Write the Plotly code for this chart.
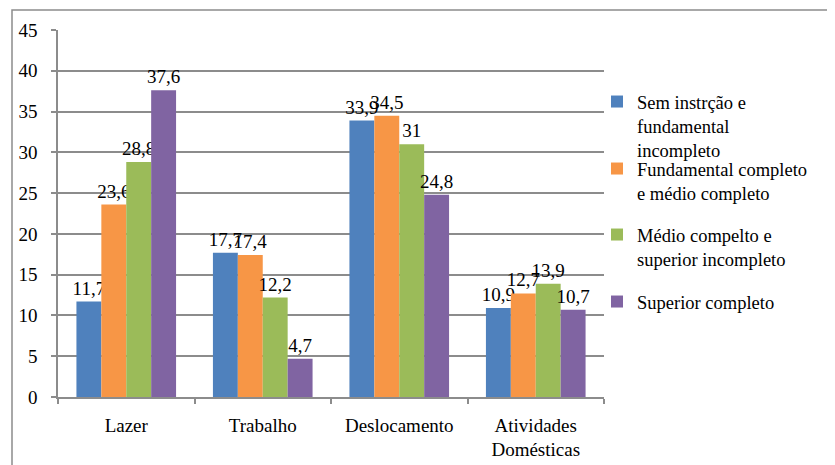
import plotly.graph_objects as go

categories = ["Lazer", "Trabalho", "Deslocamento", "Atividades<br>Domésticas"]
series_names = [
    "Sem instrção e<br>fundamental<br>incompleto",
    "Fundamental completo<br>e médio completo",
    "Médio compelto e<br>superior incompleto",
    "Superior completo",
]
s1 = [11.7, 17.7, 33.9, 10.9]
s2 = [23.6, 17.4, 34.5, 12.7]
s3 = [28.8, 12.2, 31, 13.9]
s4 = [37.6, 4.7, 24.8, 10.7]
y_ticks = [0, 5, 10, 15, 20, 25, 30, 35, 40, 45]

colors = ["#4F81BD", "#F79646", "#9BBB59", "#8064A2"]
series = [s1, s2, s3, s4]
legend_ids = ["legend", "legend2", "legend3", "legend4"]

OFF = 8  # page body margin
W, H = 835 - OFF, 465 - OFF
SX0, SX1, SY0, SY1 = 58, 604, 30, 397
L, T = SX0 - OFF, SY0 - OFF
R = W - (SX1 - OFF)
B = H - (SY1 - OFF)
pw = SX1 - SX0
ph = SY1 - SY0

def fmt(v):
    return ("%g" % v).replace(".", ",")

FONT = "Liberation Serif"
FS = 19
LFS = 18.5

fig = go.Figure()
for name, vals, c, lg in zip(series_names, series, colors, legend_ids):
    fig.add_trace(go.Bar(
        x=categories, y=vals, name=name,
        marker=dict(color=c, line=dict(width=0)),
        text=[fmt(v) for v in vals],
        textposition="outside",
        constraintext="none",
        cliponaxis=False,
        textfont=dict(family=FONT, size=FS, color="black"),
        legend=lg,
    ))

def px_x(x):
    return (x - SX0) / pw

def px_y(y):
    return 1 - (y - SY0) / ph

legend_tops = [83, 150, 216, 283]
layout_legends = {}
for lg, top in zip(legend_ids, legend_tops):
    layout_legends[lg] = dict(
        x=px_x(597), y=px_y(top), xanchor="left", yanchor="top",
        font=dict(family=FONT, size=LFS, color="black"),
        bgcolor="rgba(0,0,0,0)", borderwidth=0,
        valign="top", itemclick=False, itemdoubleclick=False,
        tracegroupgap=0,
    )

fig.update_layout(
    width=W, height=H,
    margin=dict(l=L, r=R, t=T, b=B, pad=0, autoexpand=False),
    paper_bgcolor="white", plot_bgcolor="white",
    barmode="group", bargap=0.27, bargroupgap=0,
    font=dict(family=FONT, size=FS, color="black"),
    showlegend=True,
    **layout_legends,
)
fig.update_xaxes(
    type="category", showgrid=False, automargin=False,
    showline=True, linecolor="#8c8c8c", linewidth=1.5,
    ticks="outside", tickson="boundaries", ticklen=5, tickcolor="#8c8c8c", tickwidth=1.5,
    tickfont=dict(family=FONT, size=FS, color="black"),
    ticklabelstandoff=10,
)
fig.update_yaxes(
    range=[0, 45], tickvals=y_ticks, ticktext=[str(v) for v in y_ticks],
    automargin=False,
    showgrid=True, gridcolor="#8c8c8c", gridwidth=1.5,
    showline=True, linecolor="#8c8c8c", linewidth=1.5,
    ticks="outside", ticklen=5, tickcolor="#8c8c8c", tickwidth=1.5,
    tickfont=dict(family=FONT, size=FS, color="black"),
    ticklabelstandoff=10,
    zeroline=False,
)
fig.add_shape(
    type="rect", xref="paper", yref="paper",
    x0=px_x(12), x1=px_x(900), y0=px_y(10), y1=px_y(520),
    line=dict(color="#8c8c8c", width=1.5), fillcolor="rgba(0,0,0,0)",
    layer="below",
)

fig.write_html("out.html")
